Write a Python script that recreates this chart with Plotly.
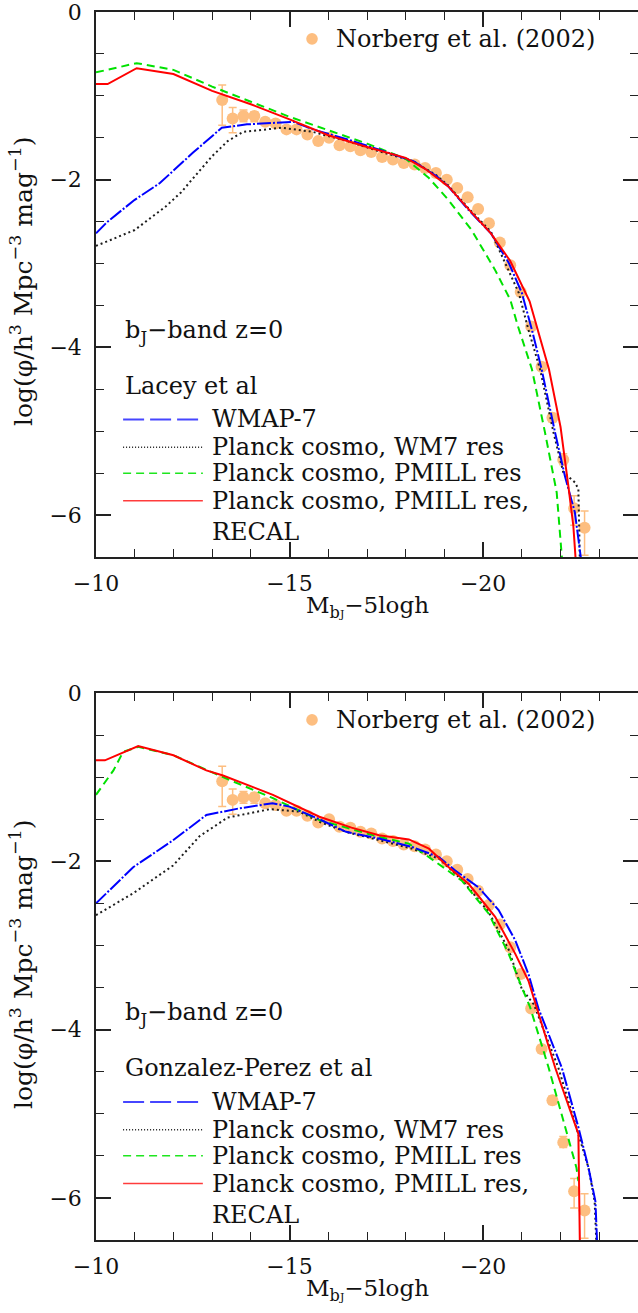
import plotly.graph_objects as go
from plotly.subplots import make_subplots

# Norberg et al. (2002) bJ luminosity function
nb_x = [-13.26, -13.53, -13.81, -14.09, -14.37, -14.64, -14.92, -15.18, -15.46, -15.74,
        -16.02, -16.29, -16.57, -16.83, -17.11, -17.39, -17.67, -17.95, -18.23, -18.50,
        -18.78, -19.06, -19.33, -19.60, -19.87, -20.15, -20.43, -20.70, -20.97, -21.24,
        -21.51, -21.79, -22.07, -22.35, -22.62]
nb_y = [-1.05, -1.27, -1.24, -1.24, -1.31, -1.33, -1.40, -1.40, -1.46, -1.54,
        -1.50, -1.59, -1.60, -1.65, -1.67, -1.73, -1.76, -1.80, -1.82, -1.86,
        -1.92, -2.00, -2.10, -2.21, -2.35, -2.52, -2.75, -3.02, -3.34, -3.75,
        -4.23, -4.84, -5.34, -5.92, -6.15]
nb_up = [0.18, 0.13, 0.07, 0.05, 0.04, 0.03, 0.02, 0.02, 0.02, 0.02,
         0.02, 0.02, 0.02, 0.02, 0.02, 0.02, 0.02, 0.02, 0.02, 0.02,
         0.02, 0.02, 0.02, 0.02, 0.02, 0.02, 0.03, 0.03, 0.03, 0.03,
         0.04, 0.05, 0.07, 0.15, 0.20]
nb_dn = [0.30, 0.17, 0.07, 0.07, 0.04, 0.03, 0.02, 0.02, 0.02, 0.02,
         0.02, 0.02, 0.02, 0.02, 0.02, 0.02, 0.02, 0.02, 0.02, 0.02,
         0.02, 0.02, 0.02, 0.02, 0.02, 0.02, 0.03, 0.03, 0.03, 0.03,
         0.04, 0.05, 0.06, 0.20, 0.33]

# Lacey et al (top panel)
lac_wm7_x = [-10, -10.3, -11.0, -11.65, -12.5, -13.25, -13.9, -14.6, -15.1, -15.6, -16.5, -17.3,
             -18.2, -18.8, -19.1, -19.6, -20.2, -20.66, -21.0, -21.26, -21.51, -21.86, -22.11,
             -22.37, -22.55]
lac_wm7_y = [-2.64, -2.50, -2.24, -2.04, -1.68, -1.38, -1.34, -1.32, -1.31, -1.40, -1.52, -1.64,
             -1.78, -1.96, -2.08, -2.35, -2.64, -2.99, -3.35, -3.79, -4.26, -5.02, -5.53,
             -5.97, -6.6]
lac_pwm7_x = [-10, -11.0, -11.8, -12.2, -12.7, -13.0, -13.4, -13.8, -14.8, -15.6, -16.5, -17.3,
              -18.2, -18.8, -19.1, -19.6, -20.2, -20.57, -20.92, -21.17, -21.47, -21.82, -22.07,
              -22.37, -22.46, -22.5]
lac_pwm7_y = [-2.79, -2.60, -2.32, -2.15, -1.88, -1.72, -1.54, -1.43, -1.38, -1.43, -1.54, -1.66,
              -1.78, -1.95, -2.07, -2.33, -2.62, -2.99, -3.35, -3.79, -4.26, -5.02, -5.49,
              -5.61, -5.69, -6.6]
lac_pmill_x = [-10, -10.3, -11.05, -12.0, -13.0, -14.0, -15.0, -16.0, -17.0, -18.0, -18.6, -19.1,
               -19.7, -20.3, -20.7, -20.9, -21.26, -21.6, -21.9, -22.05]
lac_pmill_y = [-0.72, -0.69, -0.61, -0.69, -0.89, -1.07, -1.25, -1.41, -1.57, -1.75, -1.98, -2.24,
               -2.60, -3.07, -3.43, -3.75, -4.26, -5.02, -5.73, -6.6]
lac_recal_x = [-10.0, -10.3, -11.05, -12.0, -13.0, -14.0, -15.0, -16.0, -17.0, -18.0, -18.5, -19.1,
               -19.6, -20.2, -20.7, -21.2, -21.7, -22.0, -22.2, -22.33, -22.4]
lac_recal_y = [-0.86, -0.86, -0.67, -0.74, -0.94, -1.10, -1.28, -1.47, -1.61, -1.74, -1.87, -2.08,
               -2.34, -2.64, -2.97, -3.45, -4.26, -4.95, -5.65, -6.13, -6.6]

# Gonzalez-Perez et al (bottom panel)
gp_wm7_x = [-10, -10.96, -11.99, -12.85, -13.71, -14.56, -15.0, -15.77, -16.46, -17.31, -18.17,
            -18.86, -19.28, -19.88, -20.4, -20.83, -21.17, -21.43, -22.03, -22.46, -22.72,
            -22.9, -22.95]
gp_wm7_y = [-2.50, -2.07, -1.75, -1.45, -1.37, -1.31, -1.35, -1.50, -1.65, -1.73, -1.83,
            -1.95, -2.11, -2.31, -2.58, -2.94, -3.34, -3.75, -4.45, -5.16, -5.64,
            -6.04, -6.6]
gp_pwm7_x = [-10, -10.96, -11.99, -12.68, -13.4, -14.5, -15.25, -15.77, -16.46, -17.31, -18.17,
             -18.86, -19.45, -20.14, -20.66, -21.0, -21.31, -21.94, -22.46, -22.72, -22.88, -22.93]
gp_pwm7_y = [-2.64, -2.38, -2.05, -1.70, -1.48, -1.38, -1.41, -1.53, -1.65, -1.75, -1.85,
             -1.97, -2.22, -2.60, -3.05, -3.52, -3.70, -4.45, -5.24, -5.64, -6.04, -6.6]
gp_pmill_x = [-10, -10.45, -10.7, -11.09, -12.0, -13.28, -14.57, -15.77, -17.31, -18.08, -18.6,
              -19.45, -20.14, -20.66, -21.0, -21.21, -21.69, -22.11, -22.41, -22.46]
gp_pmill_y = [-1.21, -0.92, -0.70, -0.64, -0.74, -1.00, -1.25, -1.51, -1.71, -1.79, -1.95,
              -2.23, -2.62, -3.10, -3.50, -3.73, -4.45, -5.16, -5.64, -5.80]
gp_recal_x = [-10, -10.23, -11.09, -12.0, -12.85, -13.28, -14.57, -15.77, -16.6, -17.31, -18.08,
              -18.6, -19.11, -19.63, -20.31, -20.83, -21.17, -21.34, -21.86, -22.46, -22.5]
gp_recal_y = [-0.80, -0.80, -0.63, -0.74, -0.92, -0.98, -1.21, -1.47, -1.60, -1.69, -1.74,
              -1.85, -2.07, -2.27, -2.66, -3.10, -3.42, -3.68, -4.45, -5.24, -6.6]

labels = ["WMAP-7", "Planck cosmo, WM7 res", "Planck cosmo, PMILL res",
          "Planck cosmo, PMILL res,<br>RECAL"]
FONT = "DejaVu Serif"
ORANGE = "rgb(253,190,128)"
W, H, L, R, T, B = 638, 1313, 96, 0, 12, 73
PW, PH = W - L - R, H - T - B

def px2paper(px, py):
    return (px - L) / PW, (H - B - py) / PH

fig = make_subplots(rows=2, cols=1)

styles = [
    dict(color="rgb(0,0,255)", width=2, dash="14px,2px,2px,2px"),
    dict(color="rgb(30,30,30)", width=2, dash="2px,3px"),
    dict(color="rgb(0,225,0)", width=2, dash="8px,5px"),
    dict(color="rgb(255,0,0)", width=2),
]
# draw order: black, green, blue, red
order = [1, 2, 0, 3]

panels = [
    (1, [(lac_wm7_x, lac_wm7_y), (lac_pwm7_x, lac_pwm7_y), (lac_pmill_x, lac_pmill_y), (lac_recal_x, lac_recal_y)], "Lacey et al"),
    (2, [(gp_wm7_x, gp_wm7_y), (gp_pwm7_x, gp_pwm7_y), (gp_pmill_x, gp_pmill_y), (gp_recal_x, gp_recal_y)], "Gonzalez-Perez et al"),
]

txt = dict(family=FONT, size=24, color="#111")
for row, curves, model in panels:
    fig.add_trace(go.Scatter(x=nb_x, y=nb_y, mode="markers",
                             marker=dict(color=ORANGE, size=12),
                             error_y=dict(type="data", symmetric=False, array=nb_up, arrayminus=nb_dn,
                                          color=ORANGE, thickness=1.5, width=4),
                             showlegend=False), row, 1)
    for i in order:
        cx, cy = curves[i]
        fig.add_trace(go.Scatter(x=cx, y=cy, mode="lines", line=styles[i], showlegend=False), row, 1)

    xr = "x" if row == 1 else "x2"
    yr = "y" if row == 1 else "y2"
    # Norberg legend
    fig.add_shape(type="circle", xref=xr, yref=yr, x0=-15.43, x1=-15.73, y0=-0.25, y1=-0.39,
                  fillcolor=ORANGE, line=dict(width=0))
    fig.add_annotation(x=-16.15, y=-0.32, xref=xr, yref=yr, text="Norberg et al. (2002)",
                       showarrow=False, xanchor="left", font=txt)
    fig.add_annotation(x=-10.7, y=-3.81, xref=xr, yref=yr, text="b<sub>J</sub>−band z=0",
                       showarrow=False, xanchor="left", font=txt)
    fig.add_annotation(x=-10.7, y=-4.46, xref=xr, yref=yr, text=model,
                       showarrow=False, xanchor="left", font=txt)
    leg_y = [-4.86, -5.19, -5.50, -5.83]
    txt_y = [-4.86, -5.19, -5.50, -6.02]
    leg_styles = [
        dict(color="rgb(70,70,255)", width=2, dash="21px,6px"),
        dict(color="rgb(30,30,30)", width=1.5, dash="1px,2px"),
        dict(color="rgb(30,230,30)", width=1.5, dash="8px,5px"),
        dict(color="rgb(255,60,60)", width=1.5),
    ]
    for i in range(4):
        fig.add_shape(type="line", xref=xr, yref=yr, x0=-10.7, x1=-12.76, y0=leg_y[i], y1=leg_y[i],
                      line=leg_styles[i])
        fig.add_annotation(x=-12.95, y=txt_y[i], xref=xr, yref=yr, text=labels[i],
                           showarrow=False, xanchor="left", align="left", font=txt)

axis_common = dict(ticks="inside", showline=True, linewidth=1.5, linecolor="#222", mirror="ticks",
                   showgrid=False, zeroline=False, tickwidth=1.5, tickcolor="#222", ticklen=15,
                   automargin=False, ticklabeloverflow="allow",
                   tickfont=dict(family=FONT, size=22, color="#111"))
fig.update_xaxes(range=[-10, -24], tickvals=[-10, -15, -20], ticklabelstandoff=6,
                 minor=dict(dtick=1, ticklen=8, ticks="inside", tickwidth=1.2, tickcolor="#222"),
                 **axis_common)
fig.update_yaxes(range=[-6.5, 0], tickvals=[0, -2, -4, -6], ticklabelstandoff=8,
                 minor=dict(dtick=0.5, ticklen=8, ticks="inside", tickwidth=1.2, tickcolor="#222"),
                 **axis_common)

top0, top1 = px2paper(0, 557)[1], px2paper(0, 12)[1]
bot0, bot1 = px2paper(0, 1240)[1], px2paper(0, 693)[1]
fig.update_layout(
    template="none",
    width=W, height=H,
    margin=dict(l=L, r=R, t=T, b=B),
    paper_bgcolor="white", plot_bgcolor="white",
    xaxis=dict(domain=[0, 1], anchor="y"),
    yaxis=dict(domain=[top0, top1], anchor="x"),
    xaxis2=dict(domain=[0, 1], anchor="y2"),
    yaxis2=dict(domain=[bot0, bot1], anchor="x2"),
    showlegend=False,
)

ytitle = "log(φ/h<sup>3</sup> Mpc<sup>−3</sup> mag<sup>−1</sup>)"
xtitle = "M<sub>b<span style='font-size:11px'>J</span></sub>−5logh"
for yc, xc in [(281, 607), (964, 1290)]:
    ax, ay = px2paper(21, yc)
    fig.add_annotation(x=ax, y=ay, xref="paper", yref="paper",
                       xanchor="center", yanchor="middle", text=ytitle, textangle=-90,
                       showarrow=False, font=dict(family=FONT, size=25, color="#111"))
    bx, by = px2paper(367, xc)
    fig.add_annotation(x=bx, y=by, xref="paper", yref="paper", xanchor="center", yanchor="middle",
                       showarrow=False, text=xtitle, font=dict(family=FONT, size=23, color="#111"))

fig.write_html("out.html", config={"displayModeBar": False},
               post_script="document.body.style.margin='0';")
